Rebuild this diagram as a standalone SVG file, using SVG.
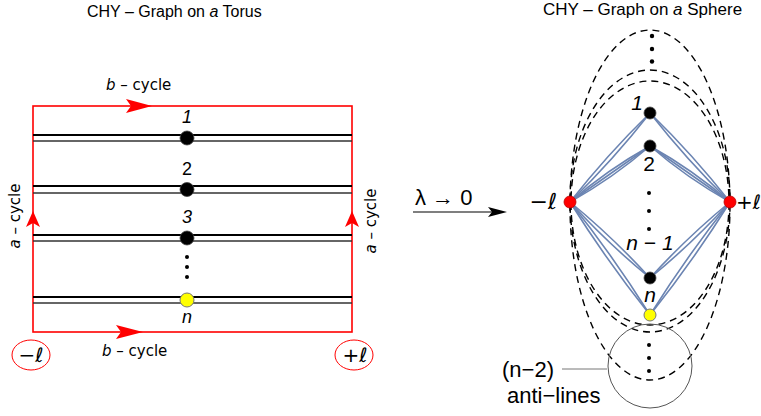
<svg xmlns="http://www.w3.org/2000/svg" width="761" height="416" viewBox="0 0 761 416">
<defs>
<style>
.t{font-family:"Liberation Sans",Arial,sans-serif;fill:#000}
.c{font-family:"DejaVu Sans",sans-serif;fill:#000;font-size:15px}
.red{fill:#ff0000}
.rl{fill:none;stroke:#ff0000;stroke-width:1.6}
.dbl1{stroke:#000;stroke-width:2}
.dbl2{stroke:#333;stroke-width:1.5}
.blue{fill:none;stroke:#6b84b2;stroke-width:1.6}
.dash{fill:none;stroke:#000;stroke-width:1.4;stroke-dasharray:7 5}
.bn{fill:#000;stroke:#444;stroke-width:0.8}
.yn{fill:#ffff00;stroke:#777;stroke-width:1}
.rn{fill:#ff0000;stroke:#b00;stroke-width:0.8}
.dot{fill:#000}
</style>
</defs>
<rect width="761" height="416" fill="#fff"/>

<!-- Left panel: torus -->
<g id="torus-title"><text class="t" x="87" y="17" font-size="16">CHY – Graph on <tspan font-style="italic">a</tspan> Torus</text></g>
<g id="torus-frame">
<rect class="rl" x="33" y="106" width="319" height="226"/>
<polygon class="red" points="152,106 126,99 131,106 126,113"/>
<polygon class="red" points="143,332 116,325 121,332 116,339"/>
<polygon class="red" points="33,211 26,227 33,223 40,227"/>
<polygon class="red" points="352,211 345,227 352,223 359,227"/>
<text class="c" x="106" y="90"><tspan font-style="italic">b</tspan> – cycle</text>
<text class="c" x="102" y="356"><tspan font-style="italic">b</tspan> – cycle</text>
<text class="c" transform="translate(20,216) rotate(-90)" text-anchor="middle"><tspan font-style="italic">a</tspan> – cycle</text>
<text class="c" transform="translate(376,221) rotate(-90)" text-anchor="middle"><tspan font-style="italic">a</tspan> – cycle</text>
</g>
<g id="torus-lines">
<line class="dbl1" x1="33" y1="135" x2="352" y2="135"/><line class="dbl2" x1="33" y1="141" x2="352" y2="141"/>
<line class="dbl1" x1="33" y1="186" x2="352" y2="186"/><line class="dbl2" x1="33" y1="193" x2="352" y2="193"/>
<line class="dbl1" x1="33" y1="235" x2="352" y2="235"/><line class="dbl2" x1="33" y1="241" x2="352" y2="241"/>
<line class="dbl1" x1="33" y1="297" x2="352" y2="297"/><line class="dbl2" x1="33" y1="303" x2="352" y2="303"/>
</g>
<g id="t-node1"><circle class="bn" cx="187" cy="138" r="7"/><text class="t" x="187" y="123" font-size="18" font-style="italic" text-anchor="middle">1</text></g>
<g id="t-node2"><circle class="bn" cx="187" cy="189.5" r="7"/><text class="t" x="187" y="175" font-size="18" text-anchor="middle">2</text></g>
<g id="t-node3"><circle class="bn" cx="187" cy="238" r="7"/><text class="t" x="187" y="223" font-size="18" font-style="italic" text-anchor="middle">3</text></g>
<g id="t-dots"><circle class="dot" cx="187" cy="257" r="2"/><circle class="dot" cx="187" cy="267" r="2"/><circle class="dot" cx="187" cy="277" r="2"/></g>
<g id="t-noden"><circle class="yn" cx="187" cy="300" r="7"/><text class="t" x="187" y="323" font-size="18" font-style="italic" text-anchor="middle">n</text></g>
<g id="t-minus-l"><ellipse fill="none" stroke="#ff0000" stroke-width="1" cx="31" cy="355" rx="19" ry="15"/><text x="31" y="362" font-family="DejaVu Sans,sans-serif" font-size="20" text-anchor="middle">−ℓ</text></g>
<g id="t-plus-l"><ellipse fill="none" stroke="#ff0000" stroke-width="1" cx="354" cy="355" rx="19" ry="15"/><text x="355" y="362" font-family="DejaVu Sans,sans-serif" font-size="20" text-anchor="middle">+ℓ</text></g>

<!-- Middle arrow -->
<g id="limit-arrow">
<text class="t" x="415" y="205" font-size="22">λ → 0</text>
<line x1="413" y1="212" x2="494" y2="212" stroke="#000" stroke-width="1.2"/>
<polygon points="507,212 488,207 492,212 488,217" fill="#000"/>
</g>

<!-- Right panel: sphere -->
<g id="sphere-title"><text class="t" x="543" y="15" font-size="17">CHY – Graph on <tspan font-style="italic">a</tspan> Sphere</text></g>
<g id="anti-lines">
<ellipse class="dash" cx="650" cy="205" rx="80" ry="175"/>
<ellipse class="dash" cx="650" cy="201" rx="80" ry="131"/>
<ellipse class="dash" cx="650" cy="203" rx="79" ry="122"/>
<circle class="dot" cx="652" cy="36" r="2.2"/><circle class="dot" cx="652" cy="49" r="2.2"/><circle class="dot" cx="652" cy="61.5" r="2.2"/>
</g>
<g id="connectors">
<path class="blue" d="M570,202 Q613,160.2 650,113"/>
<path class="blue" d="M570,202 Q607,154.8 650,113"/>
<path class="blue" d="M570,202 Q610,174 650,146"/>
<path class="blue" d="M570,202 Q612.9,178.1 650,146"/>
<path class="blue" d="M570,202 Q607.1,169.9 650,146"/>
<path class="blue" d="M570,202 Q607.2,242.9 650,278"/>
<path class="blue" d="M570,202 Q612.8,237.1 650,278"/>
<path class="blue" d="M570,202 Q606.7,260.8 650,315"/>
<path class="blue" d="M570,202 Q613.3,256.2 650,315"/>
<path class="blue" d="M730,202 Q687,160.2 650,113"/>
<path class="blue" d="M730,202 Q693,154.8 650,113"/>
<path class="blue" d="M730,202 Q690,174 650,146"/>
<path class="blue" d="M730,202 Q687.1,178.1 650,146"/>
<path class="blue" d="M730,202 Q692.9,169.9 650,146"/>
<path class="blue" d="M730,202 Q692.8,242.9 650,278"/>
<path class="blue" d="M730,202 Q687.2,237.1 650,278"/>
<path class="blue" d="M730,202 Q693.3,260.8 650,315"/>
<path class="blue" d="M730,202 Q686.7,256.2 650,315"/>
</g>
<g id="s-node1"><circle class="bn" cx="650" cy="113" r="6"/><text class="t" x="637" y="110" font-size="21" font-style="italic" text-anchor="middle">1</text></g>
<g id="s-node2"><circle class="bn" cx="650" cy="146" r="6"/><text class="t" x="649" y="171" font-size="21" text-anchor="middle">2</text></g>
<g id="s-dots"><circle class="dot" cx="649" cy="193" r="2"/><circle class="dot" cx="649" cy="211" r="2"/><circle class="dot" cx="649" cy="229" r="2"/></g>
<g id="s-node-n1"><circle class="bn" cx="650" cy="278" r="6"/><text class="t" x="650" y="250" font-size="21" font-style="italic" text-anchor="middle">n − 1</text></g>
<g id="s-node-n"><circle class="yn" cx="650" cy="315" r="6"/><text class="t" x="650" y="302" font-size="21" font-style="italic" text-anchor="middle">n</text></g>
<g id="s-minus-l"><circle class="rn" cx="570" cy="202" r="6"/><text x="557" y="209" font-family="DejaVu Sans,sans-serif" font-size="22" text-anchor="end">−ℓ</text></g>
<g id="s-plus-l"><circle class="rn" cx="730" cy="202" r="6"/><text x="736" y="209" font-family="DejaVu Sans,sans-serif" font-size="20">+ℓ</text></g>
<g id="anti-line-callout">
<circle fill="none" stroke="#555" stroke-width="1" cx="650" cy="366" r="42"/>
<circle class="dot" cx="649" cy="345" r="2"/><circle class="dot" cx="649" cy="358" r="2"/><circle class="dot" cx="649" cy="371" r="2"/>
<line x1="562" y1="369" x2="607" y2="369" stroke="#777" stroke-width="1"/>
<text class="t" x="502" y="377" font-size="22">(n−2)</text>
<text class="t" x="507" y="403" font-size="22">anti−lines</text>
</g>
</svg>
